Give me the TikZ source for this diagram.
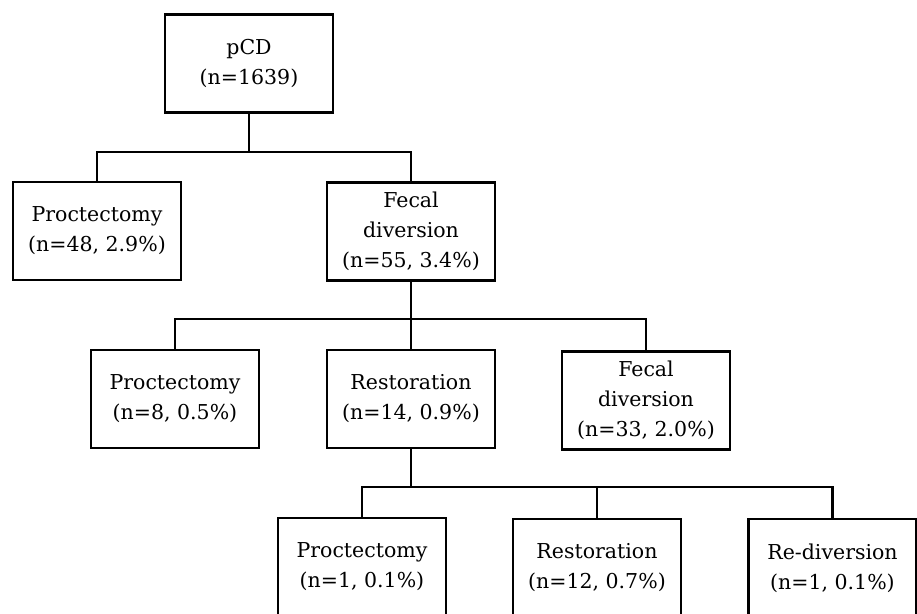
\documentclass[tikz,border=0pt]{standalone}
\usepackage{fontspec}
\setmainfont{DejaVu Serif}
\begin{document}
\begin{tikzpicture}[x=1pt,y=1pt,
  box/.style={draw,line width=2.8pt,minimum width=168pt,minimum height=98pt,inner sep=0pt,align=center,font=\fontsize{20.5}{30}\selectfont},
  conn/.style={line width=2.8pt}]
\useasboundingbox (0,0) rectangle (917,-613);
\node[box] (pcd) at (249,-63.5) {pCD\\(n=1639)};
\node[box] (pro1) at (97,-231) {Proctectomy\\(n=48, 2.9\%)};
\node[box] (fd1) at (411,-231.5) {Fecal\\diversion\\(n=55, 3.4\%)};
\node[box] (pro2) at (175,-399) {Proctectomy\\(n=8, 0.5\%)};
\node[box] (res1) at (411,-399) {Restoration\\(n=14, 0.9\%)};
\node[box] (fd2) at (646,-400.5) {Fecal\\diversion\\(n=33, 2.0\%)};
\node[box] (pro3) at (362,-567) {Proctectomy\\(n=1, 0.1\%)};
\node[box] (res2) at (597,-568) {Restoration\\(n=12, 0.7\%)};
\node[box] (red) at (832.5,-568) {Re-diversion\\(n=1, 0.1\%)};
\coordinate (j1) at (249,-152);
\coordinate (j2) at (411,-319);
\coordinate (j3) at (411,-487);
\draw[conn] (pcd.south) -- (j1);
\draw[conn] (pro1.north) |- (j1) -| (fd1.north);
\draw[conn] (fd1.south) -- (j2);
\draw[conn] (pro2.north) |- (j2) -| (fd2.north);
\draw[conn] (j2) -- (res1.north);
\draw[conn] (res1.south) -- (j3);
\draw[conn] (pro3.north) |- (j3) -| (red.north);
\draw[conn] (res2.north) -- (res2.north |- j3);
\end{tikzpicture}
\end{document}
